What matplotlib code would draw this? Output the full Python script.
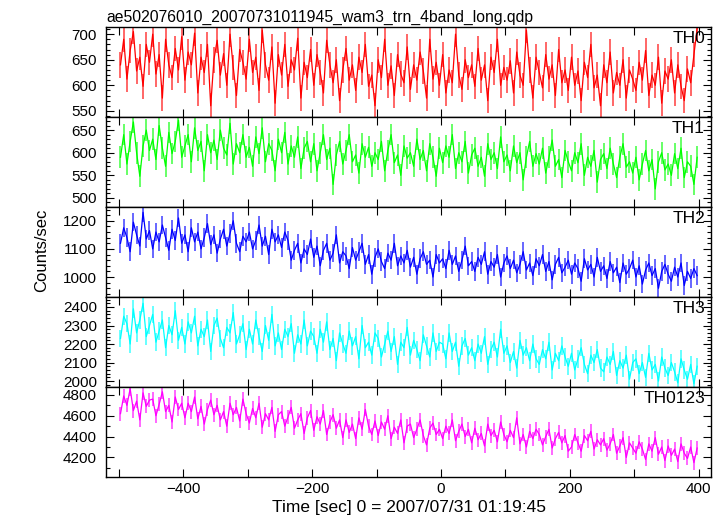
import numpy as np
import matplotlib
matplotlib.use("Agg")
import matplotlib.pyplot as plt
from matplotlib.ticker import MultipleLocator, FuncFormatter
from matplotlib.colors import to_rgb

plt.rcParams['font.family'] = ['Liberation Sans', 'DejaVu Sans']

title = "ae502076010_20070731011945_wam3_trn_4band_long.qdp"
xlabel = "Time [sec] 0 = 2007/07/31 01:19:45"
ylabel = "Counts/sec"
band_names = ["TH0", "TH1", "TH2", "TH3", "TH0123"]

t_start = -497.5
t_bin = 5.0

th0 = [
    640, 690, 612, 668, 705, 628, 655, 598, 680, 645,
    700, 622, 660, 575, 690, 640, 615, 672, 630, 695,
    610, 665, 640, 702, 585, 655, 625, 680, 560, 650,
    688, 620, 662, 600, 700, 635, 580, 670, 645, 612,
    690, 625, 655, 590, 708, 640, 610, 675, 565, 660,
    620, 680, 598, 650, 630, 692, 575, 645, 615, 670,
    600, 660, 625, 585, 688, 640, 605, 650, 570, 630,
    672, 610, 640, 590, 655, 625, 680, 598, 620, 560,
    650, 615, 690, 600, 638, 580, 660, 622, 605, 675,
    592, 640, 610, 665, 628, 575, 690, 612, 645, 600,
    660, 585, 630, 605, 700, 620, 592, 650, 615, 640,
    598, 672, 610, 640, 570, 655, 625, 690, 600, 635,
    610, 648, 585, 665, 620, 600, 708, 630, 575, 655,
    625, 595, 660, 612, 640, 580, 670, 605, 630, 590,
    655, 600, 628, 570, 645, 615, 680, 595, 620, 560,
    640, 605, 665, 585, 625, 600, 650, 575, 630, 612,
    590, 645, 610, 668, 580, 620, 600, 655, 565, 628,
    612, 650, 585, 640, 598, 570, 632, 605, 660, 712,
]
th1 = [
    590, 640, 575, 625, 668, 600, 548, 615, 650, 605,
    630, 585, 660, 610, 570, 645, 598, 625, 672, 590,
    615, 640, 580, 655, 605, 625, 560, 640, 600, 628,
    585, 650, 610, 595, 665, 575, 620, 600, 640, 590,
    612, 570, 635, 598, 655, 580, 620, 605, 560, 630,
    600, 645, 575, 615, 590, 635, 565, 610, 625, 580,
    620, 560, 600, 640, 585, 610, 530, 595, 625, 575,
    605, 640, 580, 595, 555, 620, 590, 612, 570, 600,
    585, 625, 560, 605, 640, 578, 595, 550, 615, 588,
    600, 570, 630, 585, 605, 560, 620, 590, 548, 610,
    578, 615, 590, 640, 565, 600, 580, 625, 555, 595,
    610, 570, 590, 548, 620, 585, 600, 565, 635, 580,
    595, 560, 615, 578, 600, 540, 590, 625, 570, 598,
    575, 610, 555, 590, 628, 570, 585, 545, 605, 580,
    560, 600, 578, 620, 550, 590, 570, 605, 535, 585,
    598, 565, 610, 575, 545, 590, 620, 568, 580, 555,
    590, 540, 575, 605, 560, 585, 520, 580, 600, 562,
    575, 550, 598, 565, 610, 545, 580, 570, 530, 590,
]
th2 = [
    1120, 1175, 1140, 1090, 1195, 1150, 1110, 1230, 1135, 1165,
    1100, 1160, 1125, 1185, 1140, 1095, 1170, 1130, 1210, 1120,
    1150, 1090, 1175, 1125, 1160, 1100, 1140, 1190, 1115, 1150,
    1085, 1135, 1170, 1110, 1155, 1200, 1120, 1090, 1145, 1125,
    1160, 1100, 1130, 1185, 1110, 1145, 1080, 1170, 1125, 1150,
    1105, 1160, 1130, 1060, 1095, 1120, 1050, 1100, 1080, 1135,
    1070, 1110, 1040, 1095, 1120, 1060, 1085, 1150, 1050, 1090,
    1075, 1030, 1105, 1060, 1090, 1120, 1045, 1080, 1010, 1070,
    1100, 1055, 1030, 1085, 1060, 1120, 1040, 1075, 1050, 1095,
    1035, 1070, 1010, 1065, 1090, 1045, 1060, 1000, 1080, 1050,
    1065, 1030, 1095, 1045, 1075, 1020, 1060, 1110, 1040, 1055,
    1020, 1070, 1045, 1090, 1010, 1055, 1035, 1080, 1000, 1050,
    1075, 1030, 1060, 1015, 1045, 1090, 1025, 1050, 1005, 1065,
    1040, 1080, 1020, 1055, 990, 1045, 1070, 1015, 1035, 1060,
    1010, 1050, 1030, 985, 1065, 1025, 1045, 1000, 1070, 1020,
    1040, 995, 1055, 1015, 1035, 980, 1050, 1010, 1030, 1060,
    1000, 1040, 975, 1025, 1050, 1005, 1030, 960, 1020, 1045,
    1010, 985, 1035, 1000, 1050, 970, 1020, 995, 1030, 1005,
]
th3 = [
    2230, 2350, 2310, 2200, 2390, 2260, 2330, 2420, 2240, 2300,
    2360, 2210, 2270, 2330, 2180, 2300, 2250, 2380, 2220, 2290,
    2200, 2320, 2260, 2350, 2190, 2280, 2240, 2330, 2160, 2300,
    2340, 2230, 2180, 2290, 2260, 2370, 2200, 2250, 2310, 2170,
    2280, 2200, 2330, 2240, 2160, 2300, 2220, 2360, 2190, 2260,
    2170, 2280, 2240, 2310, 2150, 2250, 2200, 2330, 2190, 2270,
    2240, 2150, 2280, 2210, 2320, 2170, 2230, 2110, 2260, 2200,
    2150, 2270, 2190, 2240, 2120, 2300, 2180, 2210, 2140, 2260,
    2230, 2130, 2200, 2270, 2160, 2240, 2090, 2210, 2180, 2290,
    2140, 2220, 2170, 2110, 2250, 2190, 2130, 2260, 2160, 2210,
    2200, 2120, 2260, 2160, 2210, 2080, 2190, 2230, 2140, 2180,
    2110, 2200, 2150, 2240, 2090, 2170, 2210, 2130, 2280, 2150,
    2190, 2100, 2160, 2070, 2220, 2140, 2180, 2110, 2200, 2120,
    2090, 2170, 2120, 2210, 2060, 2150, 2110, 2190, 2130, 2080,
    2150, 2060, 2120, 2180, 2090, 2040, 2140, 2100, 2170, 2070,
    2050, 2130, 2090, 2160, 2030, 2110, 2070, 2140, 2010, 2100,
    2120, 2040, 2100, 2020, 2150, 2060, 2090, 2000, 2130, 2070,
    2030, 2100, 2050, 1990, 2120, 2060, 2010, 2090, 1985, 2080,
]
th0123 = [
    4620, 4790, 4700, 4860, 4650, 4740, 4560, 4820, 4690, 4750,
    4760, 4600, 4710, 4830, 4640, 4700, 4540, 4780, 4660, 4720,
    4580, 4720, 4640, 4780, 4570, 4690, 4520, 4660, 4750, 4610,
    4700, 4560, 4640, 4500, 4720, 4610, 4680, 4550, 4760, 4620,
    4530, 4670, 4580, 4720, 4490, 4620, 4560, 4680, 4450, 4610,
    4640, 4500, 4590, 4680, 4480, 4560, 4620, 4430, 4580, 4650,
    4460, 4590, 4520, 4650, 4420, 4540, 4610, 4480, 4560, 4390,
    4560, 4440, 4520, 4380, 4580, 4470, 4660, 4500, 4420, 4550,
    4410, 4540, 4470, 4600, 4380, 4490, 4430, 4560, 4340, 4500,
    4520, 4390, 4470, 4560, 4410, 4320, 4480, 4530, 4420, 4470,
    4380, 4500, 4430, 4560, 4360, 4450, 4520, 4400, 4470, 4340,
    4480, 4370, 4430, 4310, 4520, 4410, 4460, 4350, 4540, 4420,
    4350, 4460, 4390, 4580, 4330, 4420, 4300, 4450, 4380, 4470,
    4420, 4320, 4400, 4470, 4290, 4380, 4440, 4340, 4410, 4260,
    4300, 4420, 4340, 4260, 4410, 4360, 4450, 4280, 4370, 4320,
    4380, 4270, 4330, 4420, 4240, 4310, 4390, 4200, 4340, 4290,
    4240, 4350, 4280, 4180, 4330, 4260, 4390, 4230, 4300, 4170,
    4310, 4220, 4280, 4160, 4330, 4240, 4190, 4300, 4150, 4290,
]
# typical 1-sigma statistical error of each band (counts/sec)
errors = [25, 24, 33, 47, 67]

series = [th0, th1, th2, th3, th0123]
colors = ["#ff0000", "#00ff00", "#0000ff", "#00ffff", "#ff00ff"]
ylims = [(538, 714), (480, 679), (929, 1249), (1968, 2454), (4012, 4876)]
ymajor = [50, 50, 100, 100, 200]
yminor = [10, 10, 20, 20, 100]
xlim = (-520, 419)


def lighten(c, f=0.4):
    r, g, b = to_rgb(c)
    return (r + (1 - r) * f, g + (1 - g) * f, b + (1 - b) * f)


fig = plt.figure(figsize=(7.24, 5.16), dpi=100)
W, H = 724, 516
left_px, right_px = 106, 711
top_px, bot_px = 27, 477
ph = (bot_px - top_px) / 5

axes = []
for i, (vals, col) in enumerate(zip(series, colors)):
    t = t_start + t_bin * np.arange(len(vals))
    ax = fig.add_axes([left_px / W, 1 - (top_px + (i + 1) * ph) / H,
                       (right_px - left_px) / W, ph / H])
    ax.errorbar(t, vals, yerr=[errors[i]] * len(vals), fmt='none',
                ecolor=lighten(col), elinewidth=1.4, capsize=0, zorder=1)
    ax.plot(t, vals, color=col, lw=0.9, zorder=2)
    ax.set_xlim(*xlim)
    ax.set_ylim(*ylims[i])
    ax.xaxis.set_major_locator(MultipleLocator(100))
    ax.yaxis.set_major_locator(MultipleLocator(ymajor[i]))
    ax.yaxis.set_minor_locator(MultipleLocator(yminor[i]))
    ax.tick_params(which='both', direction='in', top=True, right=True,
                   labelsize=11, width=0.8, colors='black')
    ax.tick_params(axis='y', which='major', pad=6.5)
    ax.tick_params(which='major', length=6)
    ax.tick_params(which='minor', length=3)
    for s in ax.spines.values():
        s.set_linewidth(1.0)
    ax.text(0.99, 0.96, band_names[i], transform=ax.transAxes,
            ha='right', va='top', fontsize=12.5, zorder=5)
    if i < 4:
        ax.tick_params(labelbottom=False)
    else:
        ax.xaxis.set_major_formatter(FuncFormatter(
            lambda v, p: ("\u2212%d" % abs(v) if v < 0 else "%d" % v)
            if int(round(v)) % 200 == 0 else ""))
    axes.append(ax)

axes[0].set_title(title, loc='left', fontsize=11.3, pad=4)
axes[-1].set_xlabel(xlabel, fontsize=12.5, labelpad=3)
fig.text(42 / W, 1 - 250 / H, ylabel, rotation=90, ha='center', va='center',
         fontsize=12)

fig.savefig("out.png", dpi=100)
